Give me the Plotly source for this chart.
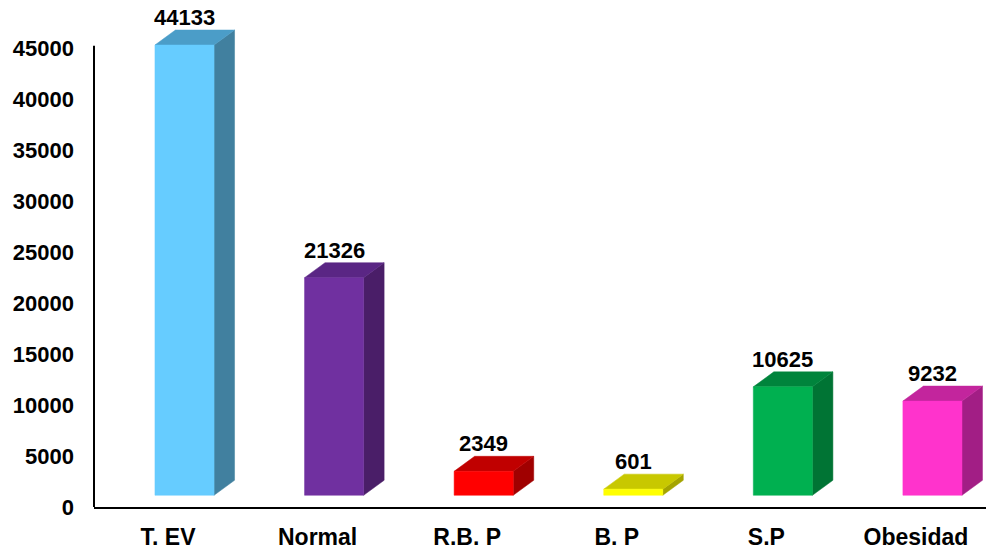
import plotly.graph_objects as go

categories = ["T. EV", "Normal", "R.B. P", "B. P", "S.P", "Obesidad"]
values = [44133, 21326, 2349, 601, 10625, 9232]
front_colors = ["#66CCFF", "#7030A0", "#FF0000", "#FFFF00", "#00B050", "#FF33CC"]
top_colors = ["#4B9DC8", "#5A2684", "#C00000", "#C8C800", "#00843C", "#C3259D"]
side_colors = ["#41809F", "#4A1E68", "#A00000", "#A4A400", "#007434", "#A21E85"]
y_ticks = [0, 5000, 10000, 15000, 20000, 25000, 30000, 35000, 40000, 45000]
y_axis_top = 45200
y_view_top = 49500

# 3D look parameters (in axis units)
W = 0.395      # front face width (category units)
DX = 0.137     # depth offset in x
DY = 1470      # depth offset in y
FLOOR = 1150   # floor lift of the front face
LABEL_SHIFT = 0.11
X_RANGE = [-0.605, 5.358]

FONT = "Liberation Sans, Arial, sans-serif"

fig = go.Figure()
for i, (v, fc, tc, sc) in enumerate(zip(values, front_colors, top_colors, side_colors)):
    x0, x1 = i - W / 2, i + W / 2
    y0, y1 = FLOOR, FLOOR + v
    # side face
    fig.add_trace(go.Scatter(
        x=[x1, x1 + DX, x1 + DX, x1, x1], y=[y0, y0 + DY, y1 + DY, y1, y0],
        fill="toself", fillcolor=sc, mode="lines", line=dict(color=sc, width=0.5),
        hoverinfo="skip", showlegend=False))
    # top face
    fig.add_trace(go.Scatter(
        x=[x0, x1, x1 + DX, x0 + DX, x0], y=[y1, y1, y1 + DY, y1 + DY, y1],
        fill="toself", fillcolor=tc, mode="lines", line=dict(color=tc, width=0.5),
        hoverinfo="skip", showlegend=False))
    # front face
    fig.add_trace(go.Scatter(
        x=[x0, x1, x1, x0, x0], y=[y0, y0, y1, y1, y0],
        fill="toself", fillcolor=fc, mode="lines", line=dict(color=fc, width=0.5),
        name=categories[i], showlegend=False))
    fig.add_annotation(
        x=i, y=y1 + DY, text="<b>%d</b>" % v, showarrow=False,
        yanchor="bottom", xanchor="center", yshift=-2,
        font=dict(family=FONT, size=22, color="black"))

# y axis line ends just above the top tick
fig.add_shape(type="line", xref="paper", yref="y", x0=0, x1=0, y0=0, y1=y_axis_top,
              line=dict(color="black", width=2))

fig.update_layout(
    width=986, height=554,
    margin=dict(l=94, r=0, t=2, b=47),
    paper_bgcolor="white", plot_bgcolor="white",
    showlegend=False,
    xaxis=dict(
        range=X_RANGE,
        tickvals=[i - LABEL_SHIFT for i in range(len(categories))],
        ticktext=["<b>%s</b>" % c for c in categories],
        tickfont=dict(family=FONT, size=23, color="black"),
        showgrid=False, zeroline=False, showline=True, linecolor="black", linewidth=2,
        ticks="", ticklabelstandoff=8),
    yaxis=dict(
        range=[0, y_view_top],
        tickvals=y_ticks,
        ticktext=["<b>%d</b>" % t for t in y_ticks],
        tickfont=dict(family=FONT, size=22, color="black"),
        showgrid=False, zeroline=False, showline=False,
        ticks="", ticklabelstandoff=19),
)

fig.write_html("out.html")
